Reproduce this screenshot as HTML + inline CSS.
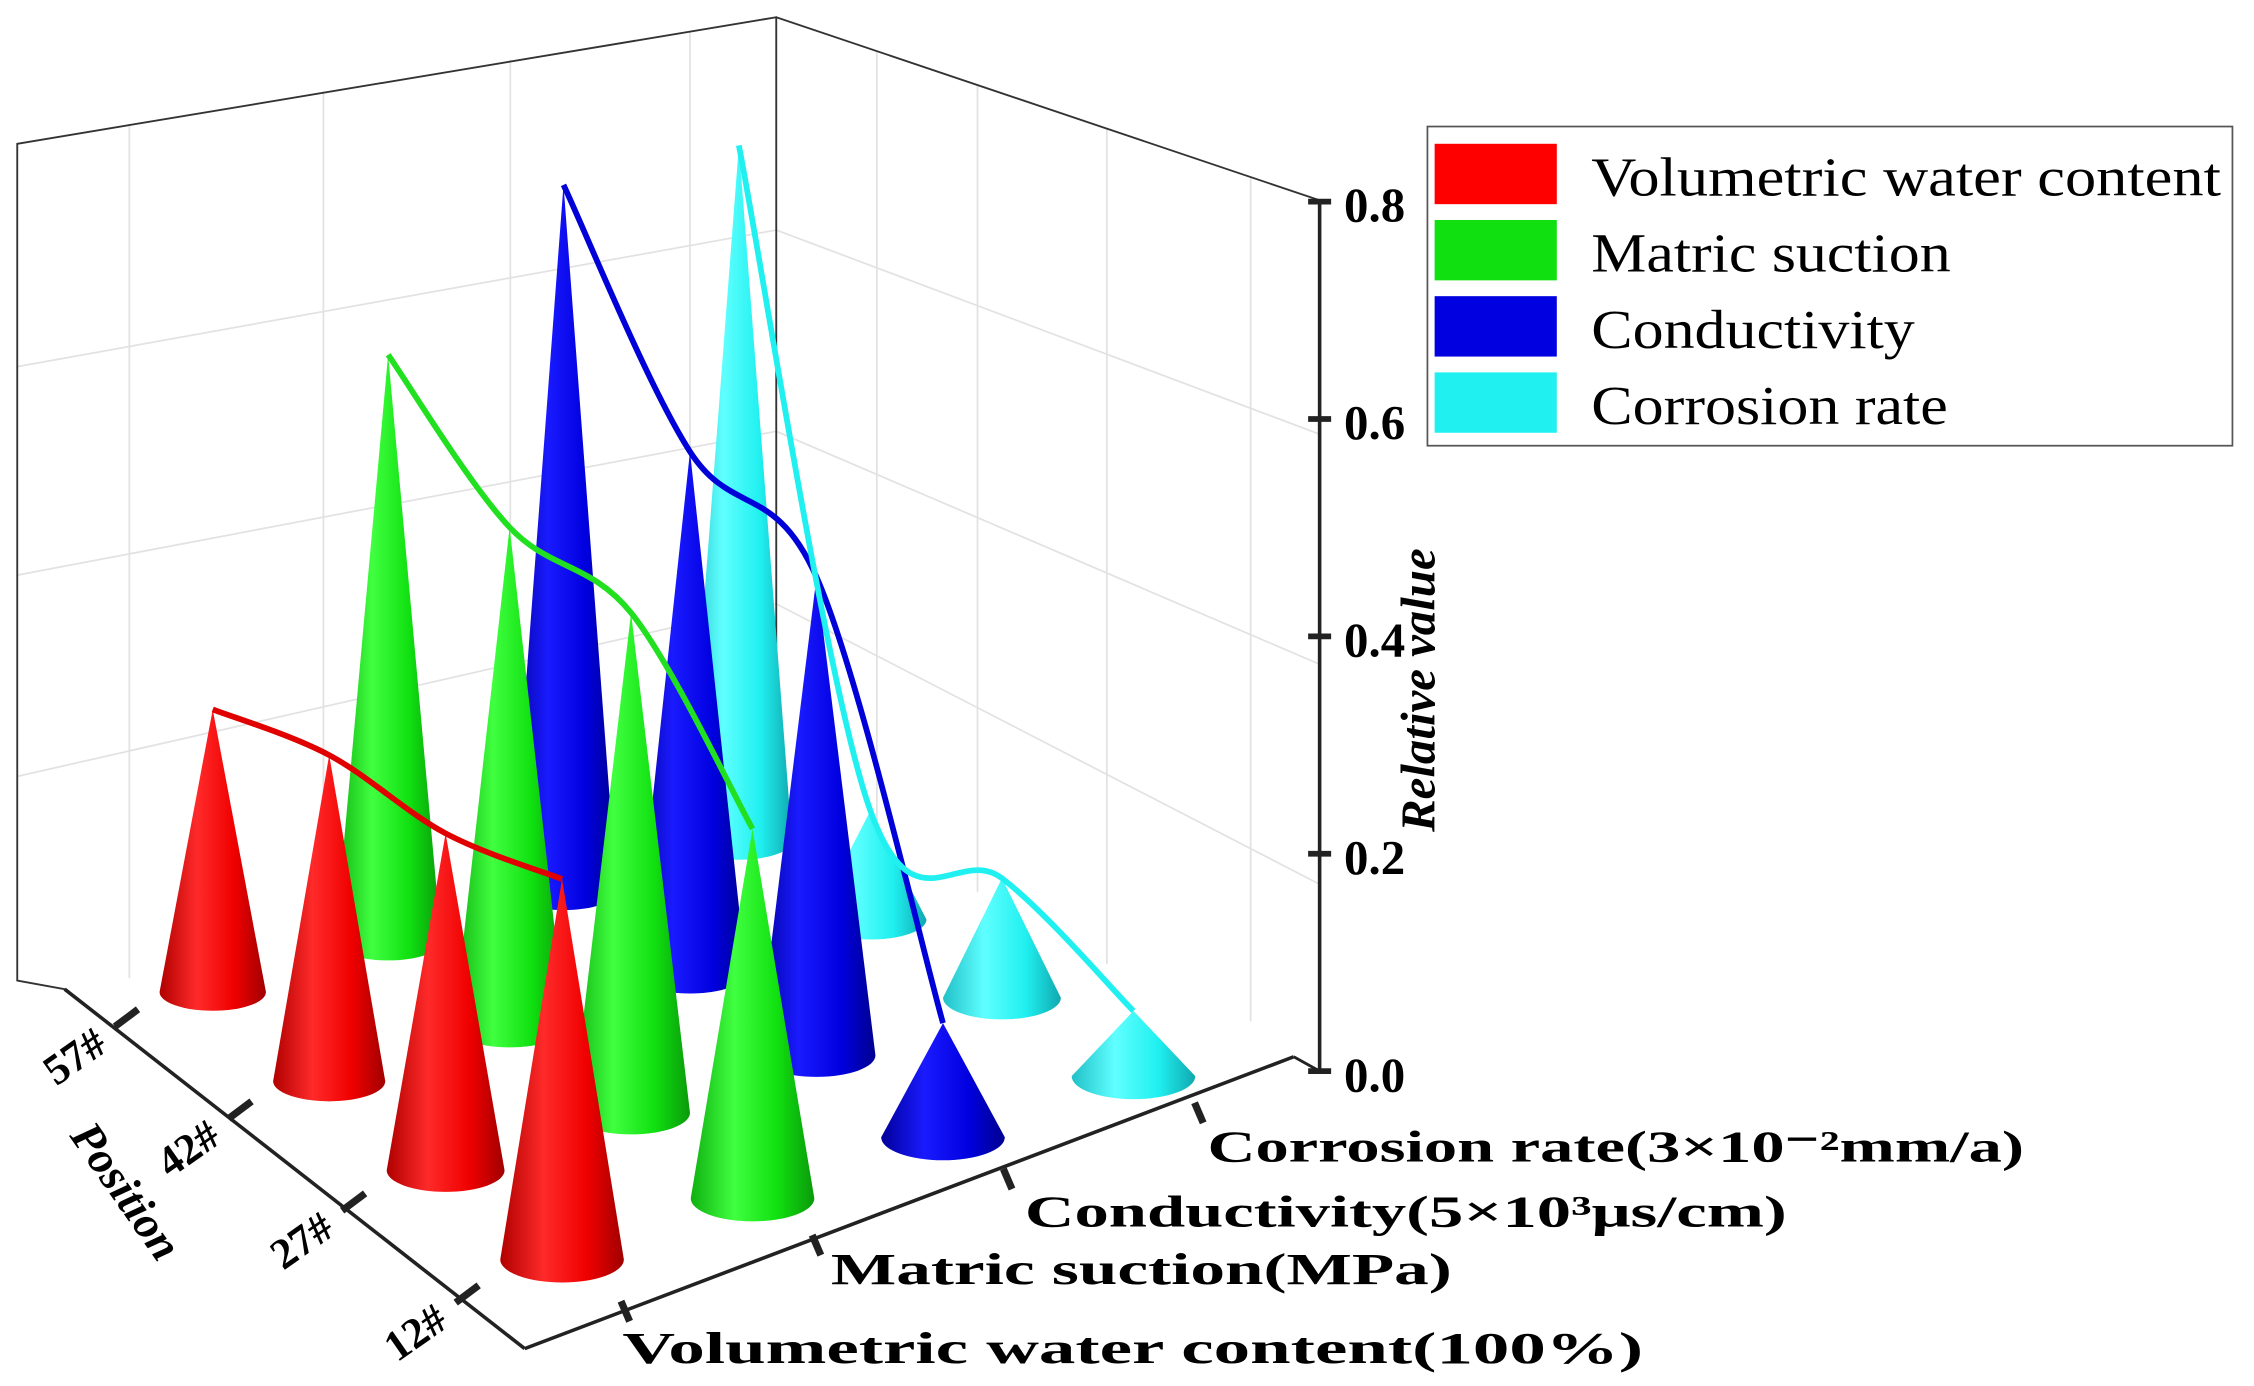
<!DOCTYPE html>
<html><head><meta charset="utf-8"><style>
html,body{margin:0;padding:0;background:#fff;}
svg{display:block;}
text{font-family:"Liberation Serif",serif;}
</style></head><body>
<svg id="chart" width="2254" height="1386" viewBox="0 0 1568 964" preserveAspectRatio="none" xmlns="http://www.w3.org/2000/svg">
<defs>
<linearGradient id="g-red" x1="0" x2="1" y1="0" y2="0"><stop offset="0" stop-color="#b00000"/><stop offset="0.35" stop-color="#ff2a2a"/><stop offset="0.7" stop-color="#f00000"/><stop offset="1" stop-color="#a00000"/></linearGradient>
<linearGradient id="g-green" x1="0" x2="1" y1="0" y2="0"><stop offset="0" stop-color="#10b010"/><stop offset="0.35" stop-color="#40ff40"/><stop offset="0.7" stop-color="#10e010"/><stop offset="1" stop-color="#0a9a0a"/></linearGradient>
<linearGradient id="g-blue" x1="0" x2="1" y1="0" y2="0"><stop offset="0" stop-color="#00009a"/><stop offset="0.35" stop-color="#1a1aff"/><stop offset="0.7" stop-color="#0000e0"/><stop offset="1" stop-color="#000090"/></linearGradient>
<linearGradient id="g-cyan" x1="0" x2="1" y1="0" y2="0"><stop offset="0" stop-color="#20c0c8"/><stop offset="0.35" stop-color="#60ffff"/><stop offset="0.7" stop-color="#20f0f0"/><stop offset="1" stop-color="#10a8b0"/></linearGradient>
</defs>
<g id="frame" stroke-linecap="round">
  <g stroke="#e2e2e2" stroke-width="1.2" fill="none">
    <line x1="90" y1="88" x2="90" y2="680"/><line x1="225" y1="64" x2="225" y2="640"/><line x1="355" y1="42" x2="355" y2="600"/><line x1="480" y1="22" x2="480" y2="560"/>
    <line x1="610" y1="36" x2="610" y2="580"/><line x1="680" y1="59" x2="680" y2="620"/><line x1="770" y1="90" x2="770" y2="670"/><line x1="870" y1="124" x2="870" y2="710"/>
    <line x1="12" y1="540" x2="540" y2="420"/><line x1="12" y1="400" x2="540" y2="300"/><line x1="12" y1="255" x2="540" y2="160"/>
    <line x1="540" y1="420" x2="918" y2="615"/><line x1="540" y1="300" x2="918" y2="462"/><line x1="540" y1="160" x2="918" y2="302"/>
  </g>
  <g stroke="#333" stroke-width="1.3" fill="none">
    <line x1="12" y1="100" x2="540" y2="12"/><line x1="540" y1="12" x2="920" y2="140"/>
    <line x1="12" y1="100" x2="12" y2="682"/><line x1="540" y1="12" x2="540" y2="560"/>
    <line x1="12" y1="682" x2="45" y2="688"/>
  </g>
</g>
<g id="cones"></g>
<g id="curves"></g>
<g id="axes"></g>
<g id="legend">
  <rect x="993" y="88" width="560" height="222" fill="#fff" stroke="#555" stroke-width="1.2"/>
  <rect x="998" y="100" width="85" height="42" fill="#ff0000"/>
  <rect x="998" y="153" width="85" height="42" fill="#10e010"/>
  <rect x="998" y="206" width="85" height="42" fill="#0000e0"/>
  <rect x="998" y="259" width="85" height="42" fill="#20f0f0"/>
  <text x="1107" y="136" font-size="38" textLength="438" lengthAdjust="spacingAndGlyphs">Volumetric water content</text>
  <text x="1107" y="189" font-size="38" textLength="250" lengthAdjust="spacingAndGlyphs">Matric suction</text>
  <text x="1107" y="242" font-size="38" textLength="225" lengthAdjust="spacingAndGlyphs">Conductivity</text>
  <text x="1107" y="295" font-size="38" textLength="248" lengthAdjust="spacingAndGlyphs">Corrosion rate</text>
</g>
</svg>
<script>
const positions = ["57#", "42#", "27#", "12#"];
const categories = ["Volumetric water content(100%)", "Matric suction(MPa)", "Conductivity(5×10³μs/cm)", "Corrosion rate(3×10⁻²mm/a)"];
const volumetricValues = [0.26, 0.30, 0.31, 0.35];
const matricValues = [0.54, 0.46, 0.46, 0.34];
const conductivityValues = [0.65, 0.48, 0.44, 0.105];
const corrosionValues = [0.64, 0.10, 0.11, 0.06];
const zTicks = ["0.0", "0.2", "0.4", "0.6", "0.8"];

const NS = "http://www.w3.org/2000/svg";
const series = [volumetricValues, matricValues, conductivityValues, corrosionValues];
const grads = ["g-red", "g-green", "g-blue", "g-cyan"];
const lineCols = ["#e00000", "#20e020", "#0000d8", "#20f0f0"];
const seriesNames = ["volumetric", "matric", "conductivity", "corrosion"];
const catLabelWidths = [710, 432, 530, 568];
function baseX(i, j) { return 148 + i * 81 + j * 122 + i * j * 3.5; }
function baseY(i, j) { return 690 + i * 62 - j * 35 - i * j * 2.5; }
function hScale(v) { return v * 756; }
function zAxis(v) { return 745 - v * 756; }
function mk(tag, attrs, parent) { const e = document.createElementNS(NS, tag); for (const k in attrs) e.setAttribute(k, attrs[k]); parent.appendChild(e); return e; }

const conesG = document.getElementById("cones");
const items = [];
for (let j = 0; j < series.length; j++) for (let i = 0; i < positions.length; i++) items.push([i, j]);
items.sort((a, b) => baseY(a[0], a[1]) - baseY(b[0], b[1]));
items.forEach(([i, j]) => {
  const cx = baseX(i, j), cy = baseY(i, j), rx = 37 + i * 2, ry = 13 + i;
  const tx = cx, ty = cy - hScale(series[j][i]);
  const p = mk("path", { d: `M${cx - rx},${cy} L${tx},${ty} L${cx + rx},${cy} A${rx} ${ry} 0 0 1 ${cx - rx},${cy} Z`, fill: `url(#${grads[j]})` }, conesG);
  
  
});

const curvesG = document.getElementById("curves");
series.forEach((vals, j) => {
  const pts = vals.map((v, i) => [baseX(i, j), baseY(i, j) - hScale(v)]);
  let d = `M${pts[0][0]},${pts[0][1]}`;
  for (let k = 0; k < pts.length - 1; k++) {
    const p0 = pts[Math.max(0, k - 1)], p1 = pts[k], p2 = pts[k + 1], p3 = pts[Math.min(pts.length - 1, k + 2)];
    const c1 = [p1[0] + (p2[0] - p0[0]) / 6, p1[1] + (p2[1] - p0[1]) / 6];
    const c2 = [p2[0] - (p3[0] - p1[0]) / 6, p2[1] - (p3[1] - p1[1]) / 6];
    d += ` C${c1[0]},${c1[1]} ${c2[0]},${c2[1]} ${p2[0]},${p2[1]}`;
  }
  const path = mk("path", { d: d, fill: "none", stroke: lineCols[j], "stroke-width": 4 }, curvesG);
  
  
});

const axesG = document.getElementById("axes");
mk("line", { x1: 45, y1: 688, x2: 365, y2: 938, stroke: "#222", "stroke-width": 2.5 }, axesG);
mk("line", { x1: 365, y1: 938, x2: 900, y2: 735, stroke: "#222", "stroke-width": 2.5 }, axesG);
mk("line", { x1: 918, y1: 140, x2: 918, y2: 745, stroke: "#222", "stroke-width": 2.5 }, axesG);
mk("line", { x1: 900, y1: 735, x2: 918, y2: 745, stroke: "#222", "stroke-width": 2 }, axesG);
zTicks.forEach(t => {
  const y = zAxis(parseFloat(t));
  mk("line", { x1: 910, y1: y, x2: 926, y2: y, stroke: "#222", "stroke-width": 4 }, axesG);
  const tx = mk("text", { x: 935, y: y + 14, "font-size": 34, "font-weight": "bold" }, axesG);
  tx.textContent = t;
  
  
});
const zt = mk("text", { x: 0, y: 0, "font-size": 34, "font-weight": "bold", "font-style": "italic", "text-anchor": "middle", transform: "translate(998,480) rotate(-90)" }, axesG);
zt.textContent = "Relative value";


positions.forEach((p, i) => {
  const x = 88 + i * 79, y = 708 + i * 64;
  mk("line", { x1: x - 8, y1: y + 6, x2: x + 8, y2: y - 6, stroke: "#222", "stroke-width": 5 }, axesG);
  const t = mk("text", { x: 0, y: 0, "font-size": 30, "font-weight": "bold", "text-anchor": "end", transform: `translate(${x - 12},${y + 22}) rotate(-35)` }, axesG);
  t.textContent = p;
  
  
});
const pt = mk("text", { x: 0, y: 0, "font-size": 32, "font-weight": "bold", "font-style": "italic", transform: "translate(48,790) rotate(55)" }, axesG);
pt.textContent = "Position";


const catLabelPos = [[433, 948], [578, 893], [713, 853], [840, 808]];
categories.forEach((c, j) => {
  const x = 435 + j * 133, y = 912 - j * 46;
  mk("line", { x1: x - 3, y1: y - 7, x2: x + 3, y2: y + 7, stroke: "#222", "stroke-width": 5 }, axesG);
  const t = mk("text", { x: catLabelPos[j][0], y: catLabelPos[j][1], "font-size": 31, "font-weight": "bold", textLength: catLabelWidths[j], lengthAdjust: "spacingAndGlyphs" }, axesG);
  t.textContent = c;
  
  
});
</script>
</body></html>
